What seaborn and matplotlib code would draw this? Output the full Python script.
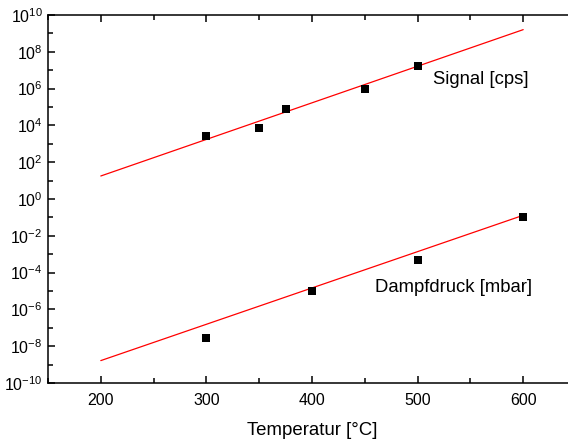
import matplotlib
matplotlib.use("Agg")
import matplotlib.pyplot as plt
import matplotlib.ticker as mticker
import seaborn as sns
import pandas as pd

# Data
signal_T = [300, 350, 375, 450, 500]
signal_cps = [2.6e3, 7.6e3, 7.7e4, 9.5e5, 1.6e7]
vapor_T = [300, 400, 500, 600]
vapor_mbar = [2.8e-8, 1.0e-5, 4.8e-4, 0.105]
fit_T = [200, 600]
signal_fit = [17.8, 1.6e9]
vapor_fit = [1.65e-9, 0.13]
series_labels = ["Signal [cps]", "Dampfdruck [mbar]"]

sns.set_theme(style="ticks")
plt.rcParams['font.family'] = ['Liberation Sans', 'DejaVu Sans']
plt.rcParams['axes.linewidth'] = 1.1
plt.rcParams['axes.unicode_minus'] = False
plt.rcParams['text.color'] = 'black'
plt.rcParams['axes.labelcolor'] = 'black'

fig = plt.figure(figsize=(5.68, 4.41), dpi=100)
ax = fig.add_axes([48/568, 1-383/441, 528/568, 368/441])

df_sig = pd.DataFrame({"T": signal_T, "v": signal_cps})
df_vap = pd.DataFrame({"T": vapor_T, "v": vapor_mbar})
df_sfit = pd.DataFrame({"T": fit_T, "v": signal_fit})
df_vfit = pd.DataFrame({"T": fit_T, "v": vapor_fit})

sns.lineplot(data=df_sfit, x="T", y="v", color="red", linewidth=0.9, ax=ax)
sns.lineplot(data=df_vfit, x="T", y="v", color="red", linewidth=0.9, ax=ax)
sns.scatterplot(data=df_sig, x="T", y="v", marker="s", s=38, color="black",
                edgecolor="black", linewidth=0, ax=ax, zorder=3)
sns.scatterplot(data=df_vap, x="T", y="v", marker="s", s=38, color="black",
                edgecolor="black", linewidth=0, ax=ax, zorder=3)

ax.set_yscale("log")
ax.set_xlim(150, 650)
ax.set_ylim(1e-10, 1e10)
ax.xaxis.set_major_locator(mticker.MultipleLocator(100))
ax.xaxis.set_minor_locator(mticker.MultipleLocator(50))
ax.yaxis.set_major_locator(mticker.LogLocator(base=100.0, numticks=20))
ax.yaxis.set_minor_locator(mticker.LogLocator(base=10.0, numticks=30))
ax.yaxis.set_minor_formatter(mticker.NullFormatter())
ax.yaxis.set_major_formatter(mticker.LogFormatterSciNotation(base=10))

ax.tick_params(which="both", direction="in", top=True, right=True,
               colors="black", labelsize=11.5, width=1.1)
ax.tick_params(which="major", length=5, pad=4)
ax.tick_params(axis="x", which="major", pad=7)
ax.tick_params(which="minor", length=3.3)
for s in ax.spines.values():
    s.set_visible(True)
    s.set_color("black")

ax.set_xlabel("Temperatur [°C]", fontsize=13.4, labelpad=10)
ax.set_ylabel("")


def px_to_T(px):
    return (px - 100) / 1.0575 + 200


def py_to_v(py):
    return 10 ** (10 - (py - 14.7) / 18.4)


ax.text(px_to_T(433), py_to_v(79), series_labels[0], fontsize=13.3,
        va="center", ha="left")
ax.text(px_to_T(375), py_to_v(287), series_labels[1], fontsize=13.3,
        va="center", ha="left")

fig.savefig("out.png", dpi=100)
